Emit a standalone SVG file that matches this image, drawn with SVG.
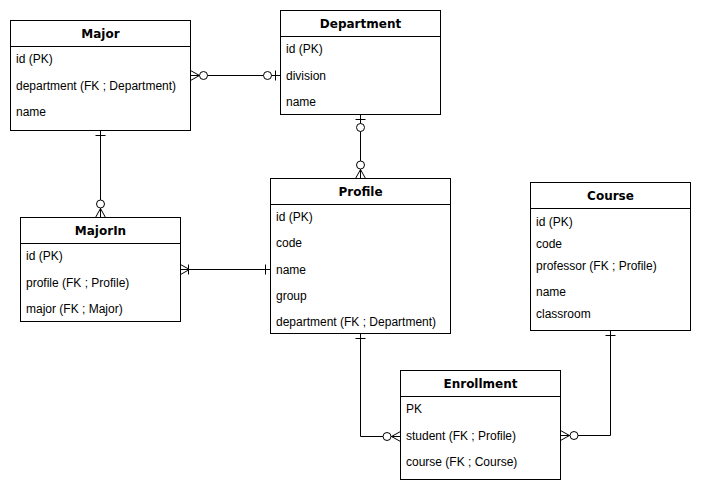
<svg xmlns="http://www.w3.org/2000/svg" width="701" height="491" viewBox="0 0 701 491">
<style>
.box{fill:#fff;stroke:#000;stroke-width:1}
.t{font-family:"DejaVu Sans",sans-serif;font-weight:bold;font-size:12px;text-anchor:middle;fill:#000}
.f{font-family:"Liberation Sans",Arial,sans-serif;font-size:12px;fill:#000}
.c{fill:none;stroke:#000;stroke-width:1}
.o{fill:#fff;stroke:#000;stroke-width:1}
</style>
<rect width="701" height="491" fill="#fff"/>
<g id="connectors">
  <!-- Major - Department -->
  <path class="c" d="M190.5 75.5H280.5"/>
  <path class="c" d="M190.5 70.5L199.5 75.5L190.5 80.5M190.5 75.5H199.5"/>
  <circle class="o" cx="203.5" cy="75.5" r="4"/>
  <circle class="o" cx="267.5" cy="75.5" r="4"/>
  <path class="c" d="M275.5 70.5V80.5"/>
  <!-- Department - Profile -->
  <path class="c" d="M360.5 114.5V178.5"/>
  <path class="c" d="M355.5 119.5H365.5"/>
  <circle class="o" cx="360.5" cy="127.5" r="4"/>
  <circle class="o" cx="360.5" cy="165" r="4"/>
  <path class="c" d="M355.5 178.5L360.5 169.5L365.5 178.5"/>
  <!-- Major - MajorIn -->
  <path class="c" d="M100.5 130.5V217.5"/>
  <path class="c" d="M95.5 135.5H105.5"/>
  <circle class="o" cx="100.5" cy="204" r="4"/>
  <path class="c" d="M95.5 217.5L100.5 208.5L105.5 217.5"/>
  <!-- MajorIn - Profile -->
  <path class="c" d="M180.5 269.5H270.5"/>
  <path class="c" d="M180.5 264.5L189.5 269.5L180.5 274.5"/>
  <path class="c" d="M188.5 264.5V274.5"/>
  <path class="c" d="M265.5 264.5V274.5"/>
  <!-- Profile - Enrollment -->
  <path class="c" d="M360.5 333.5V436.5H400.5"/>
  <path class="c" d="M355.5 338.5H365.5"/>
  <circle class="o" cx="387" cy="436.5" r="4"/>
  <path class="c" d="M400.5 431.5L391.5 436.5L400.5 441.5M391.5 436.5H400.5"/>
  <!-- Course - Enrollment -->
  <path class="c" d="M610.5 330.5V435.5H560.5"/>
  <path class="c" d="M605.5 335.5H615.5"/>
  <circle class="o" cx="574" cy="435.5" r="4"/>
  <path class="c" d="M560.5 430.5L569.5 435.5L560.5 440.5M560.5 435.5H569.5"/>
</g>
<g id="Major">
  <rect class="box" x="10.5" y="20.5" width="180" height="110"/>
  <path class="c" d="M10.5 46.5H190.5"/>
  <text class="t" x="100.5" y="38">Major</text>
  <text class="f" x="16" y="63">id (PK)</text>
  <text class="f" x="16" y="90">department (FK ; Department)</text>
  <text class="f" x="16" y="116">name</text>
</g>
<g id="Department">
  <rect class="box" x="280.5" y="10.5" width="160" height="104"/>
  <path class="c" d="M280.5 36.5H440.5"/>
  <text class="t" x="360.5" y="28">Department</text>
  <text class="f" x="286" y="53">id (PK)</text>
  <text class="f" x="286" y="80">division</text>
  <text class="f" x="286" y="106">name</text>
</g>
<g id="Profile">
  <rect class="box" x="270.5" y="178.5" width="180" height="155"/>
  <path class="c" d="M270.5 204.5H450.5"/>
  <text class="t" x="360.5" y="196">Profile</text>
  <text class="f" x="276" y="221">id (PK)</text>
  <text class="f" x="276" y="247">code</text>
  <text class="f" x="276" y="274">name</text>
  <text class="f" x="276" y="300">group</text>
  <text class="f" x="276" y="326">department (FK ; Department)</text>
</g>
<g id="MajorIn">
  <rect class="box" x="20.5" y="217.5" width="160" height="104"/>
  <path class="c" d="M20.5 243.5H180.5"/>
  <text class="t" x="100.5" y="235">MajorIn</text>
  <text class="f" x="26" y="260">id (PK)</text>
  <text class="f" x="26" y="287">profile (FK ; Profile)</text>
  <text class="f" x="26" y="313">major (FK ; Major)</text>
</g>
<g id="Course">
  <rect class="box" x="530.5" y="182.5" width="160" height="148"/>
  <path class="c" d="M530.5 208.5H690.5"/>
  <text class="t" x="610.5" y="200">Course</text>
  <text class="f" x="536" y="226">id (PK)</text>
  <text class="f" x="536" y="248">code</text>
  <text class="f" x="536" y="270">professor (FK ; Profile)</text>
  <text class="f" x="536" y="296">name</text>
  <text class="f" x="536" y="318">classroom</text>
</g>
<g id="Enrollment">
  <rect class="box" x="400.5" y="370.5" width="160" height="109"/>
  <path class="c" d="M400.5 396.5H560.5"/>
  <text class="t" x="480.5" y="388">Enrollment</text>
  <text class="f" x="406" y="413">PK</text>
  <text class="f" x="406" y="440">student (FK ; Profile)</text>
  <text class="f" x="406" y="466">course (FK ; Course)</text>
</g>
</svg>
